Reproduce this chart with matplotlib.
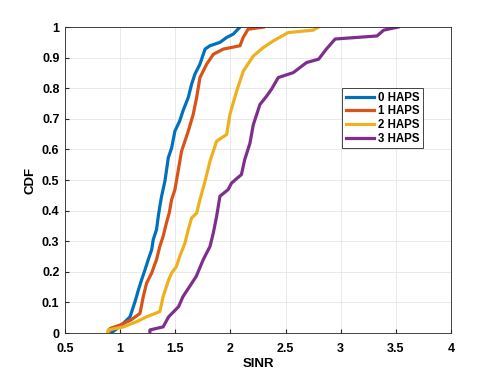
import matplotlib
matplotlib.use("Agg")
import matplotlib.pyplot as plt

labels = ["0 HAPS", "1 HAPS", "2 HAPS", "3 HAPS"]
colors = ["#0072BD", "#D95319", "#EDB120", "#7E2F8E"]

x0 = [0.92, 1.03, 1.09, 1.12, 1.14, 1.165, 1.195, 1.225, 1.255, 1.286, 1.30, 1.33, 1.346, 1.36, 1.376,
      1.406, 1.437, 1.467, 1.497, 1.54, 1.57, 1.618, 1.648, 1.678, 1.724, 1.77, 1.815, 1.905, 1.966, 2.026, 2.087]
y0 = [0.0, 0.032, 0.053, 0.086, 0.108, 0.14, 0.174, 0.206, 0.24, 0.272, 0.305, 0.338, 0.381, 0.414, 0.447,
      0.496, 0.573, 0.605, 0.66, 0.693, 0.726, 0.77, 0.813, 0.846, 0.879, 0.928, 0.939, 0.95, 0.966, 0.977, 1.0]

x1 = [0.89, 0.91, 1.0, 1.10, 1.18, 1.21, 1.24, 1.286, 1.33, 1.36, 1.39, 1.42, 1.445, 1.467, 1.497,
      1.51, 1.557, 1.618, 1.663, 1.694, 1.724, 1.785, 1.845, 1.935, 2.087, 2.116, 2.16, 2.30]
y1 = [0.0, 0.015, 0.026, 0.043, 0.064, 0.119, 0.163, 0.196, 0.24, 0.283, 0.316, 0.36, 0.392, 0.436, 0.469,
      0.496, 0.594, 0.66, 0.715, 0.77, 0.835, 0.879, 0.911, 0.928, 0.939, 0.966, 0.993, 1.0]

x2 = [0.89, 0.89, 1.03, 1.15, 1.24, 1.36, 1.39, 1.44, 1.467, 1.51, 1.54, 1.588, 1.618, 1.648, 1.694, 1.724,
      1.77, 1.815, 1.875, 1.966, 1.996, 2.056, 2.117, 2.207, 2.298, 2.39, 2.524, 2.75, 2.80]
y2 = [0.0, 0.01, 0.02, 0.037, 0.053, 0.07, 0.119, 0.174, 0.196, 0.217, 0.25, 0.294, 0.338, 0.376, 0.392, 0.436,
      0.496, 0.562, 0.627, 0.649, 0.715, 0.79, 0.856, 0.905, 0.933, 0.955, 0.982, 0.99, 1.0]

x3 = [1.27, 1.27, 1.39, 1.44, 1.53, 1.57, 1.63, 1.69, 1.754, 1.815, 1.845, 1.875, 1.89, 1.905, 1.98, 2.01,
      2.10, 2.13, 2.177, 2.207, 2.268, 2.33, 2.373, 2.434, 2.57, 2.69, 2.80, 2.87, 2.95, 3.33, 3.39, 3.52]
y3 = [0.0, 0.01, 0.02, 0.053, 0.086, 0.119, 0.152, 0.185, 0.24, 0.283, 0.327, 0.381, 0.414, 0.447, 0.469, 0.49,
      0.518, 0.567, 0.62, 0.68, 0.747, 0.775, 0.797, 0.835, 0.851, 0.884, 0.895, 0.928, 0.961, 0.971, 0.99, 1.0]

xticks = [0.5, 1, 1.5, 2, 2.5, 3, 3.5, 4]
xticklabels = ["0.5", "1", "1.5", "2", "2.5", "3", "3.5", "4"]
yticks = [0, 0.1, 0.2, 0.3, 0.4, 0.5, 0.6, 0.7, 0.8, 0.9, 1]
yticklabels = ["0", "0.1", "0.2", "0.3", "0.4", "0.5", "0.6", "0.7", "0.8", "0.9", "1"]

plt.rcParams['font.family'] = ['Liberation Sans', 'DejaVu Sans']
plt.rcParams['font.weight'] = 'bold'

fig = plt.figure(figsize=(4.98, 3.74), dpi=100)
ax = fig.add_axes([0.1305, 0.1096, 0.775, 0.818])

for xs, ys, lab, c in zip([x0, x1, x2, x3], [y0, y1, y2, y3], labels, colors):
    ax.plot(xs, ys, color=c, lw=2.3, label=lab)

ax.set_xlim(0.5, 4)
ax.set_ylim(0, 1)
ax.set_xticks(xticks)
ax.set_xticklabels(xticklabels, fontsize=9, fontweight='bold')
ax.set_yticks(yticks)
ax.set_yticklabels(yticklabels, fontsize=9, fontweight='bold')
ax.grid(True, color='#e5e5e5', lw=0.6)
ax.set_axisbelow(True)
ax.tick_params(direction='in', length=3, color='#262626', top=False, right=False)
ax.tick_params(axis='x', pad=7)
ax.tick_params(axis='y', pad=4)
for s in ax.spines.values():
    s.set_color('#262626')
    s.set_linewidth(0.6)
ax.set_xlabel("SINR", fontsize=9.5, fontweight='bold', labelpad=2)
ax.set_ylabel("CDF", fontsize=9.5, fontweight='bold', labelpad=4)

leg = ax.legend(loc='upper left', bbox_to_anchor=(0.718, 0.80), fontsize=8.3,
                handlelength=2.5, handletextpad=0.3, labelspacing=0.15,
                borderpad=0.3, fancybox=False, framealpha=1, borderaxespad=0)
leg.get_frame().set_edgecolor('#262626')
leg.get_frame().set_linewidth(0.6)
for t in leg.get_texts():
    t.set_fontweight('bold')

fig.savefig("out.png", dpi=100)
